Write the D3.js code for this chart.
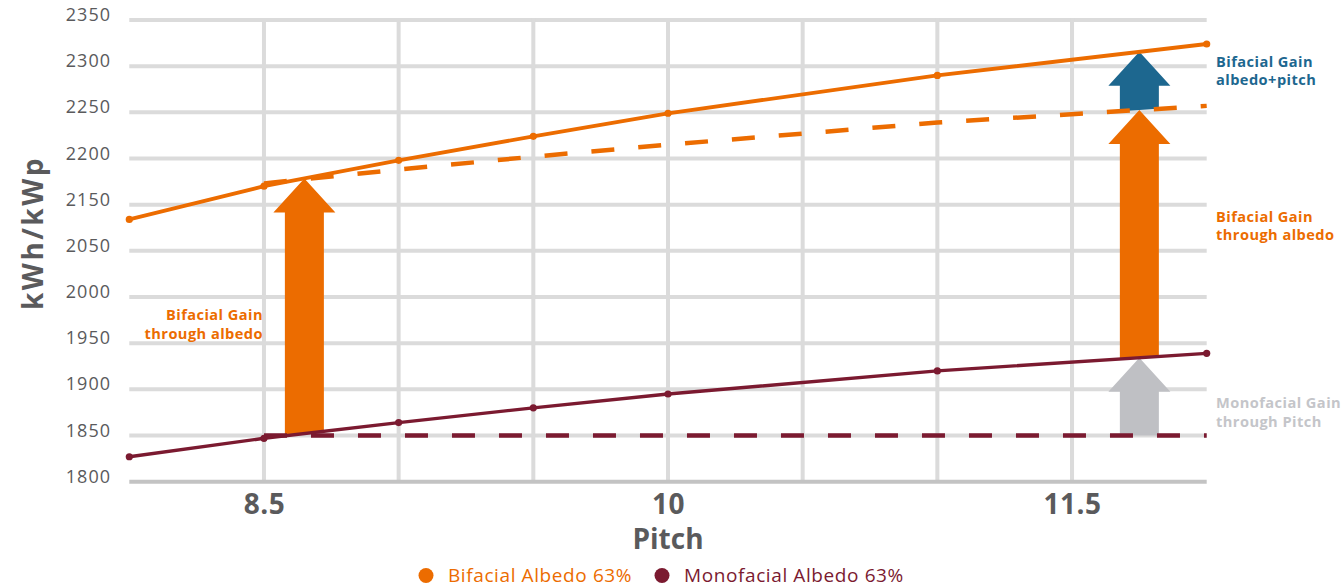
<!DOCTYPE html>
<html>
<head>
<meta charset="utf-8">
<script src="https://cdn.jsdelivr.net/npm/d3@7"></script>
<style>
  html, body { margin: 0; padding: 0; background: #fff; }
  svg { display: block; font-family: "Open Sans", sans-serif; }
</style>
</head>
<body>
<svg id="chart" width="1344" height="587"></svg>
<script>
// ---- data -------------------------------------------------------------
const pitch            = [8, 8.5, 9, 9.5, 10, 11, 12];
const bifacial         = [2084, 2120, 2148, 2174, 2199, 2240, 2274];
const monofacial       = [1827, 1847, 1864, 1880, 1895, 1920, 1939];

// reference curves: bifacial gain from albedo only, monofacial at fixed pitch
const bifacialAlbedoPitch = [8.5, 9, 9.5, 10, 11, 12];
const bifacialAlbedo      = [2123, 2138, 2152, 2165, 2189, 2207];
const monofacialFixedPitch = [8.5, 12];
const monofacialFixed      = [1850, 1850];

const yTickValues = [1800, 1850, 1900, 1950, 2000, 2050, 2100, 2150, 2200, 2250, 2300];
const yTickLabels = ["1800", "1850", "1900", "1950", "2000", "2050", "2150", "2200", "2250", "2300", "2350"];
const xTickValues = [8.5, 10, 11.5];
const xTickLabels = ["8.5", "10", "11.5"];
const xGridValues = [8.5, 9, 9.5, 10, 10.5, 11, 11.5];

const seriesNames = ["Bifacial Albedo 63%", "Monofacial Albedo 63%"];

// gain arrows: position on the pitch axis, the curve they start from and the curve they reach
const arrowPitch = [8.65, 11.75, 11.75, 11.75];
const arrowFrom  = ["mono", "mono", "bifAlbedo", "monoFixed"];
const arrowTo    = ["bif", "bifAlbedo", "bif", "mono"];
const arrowKind  = ["albedo", "albedo", "total", "pitch"];

const noteLines = {
  total:  ["Bifacial Gain", "albedo+pitch"],
  albedo: ["Bifacial Gain", "through albedo"],
  pitch:  ["Monofacial Gain", "through Pitch"]
};

// ---- styles -----------------------------------------------------------
const C = {
  orange: "#EC6C00",
  maroon: "#7B1A30",
  blue:   "#1D678F",
  grayArrow: "#BFC0C4",
  grayNote:  "#C4C5C9",
  grid:   "#DBDBDB",
  axis:   "#C3C3C3",
  text:   "#5A5A5C"
};
const kindColor = { albedo: C.orange, total: C.blue, pitch: C.grayArrow };
const noteColor = { albedo: C.orange, total: C.blue, pitch: C.grayNote };

// ---- scales -----------------------------------------------------------
const svg = d3.select("#chart");
const x = d3.scaleLinear().domain([8, 12]).range([129.3, 1206.7]);
const y = d3.scaleLinear().domain([1800, 2300]).range([481.7, 20]);

// piecewise-linear curves used to place the arrows on the lines
const curves = {
  bif:       d3.scaleLinear().domain(pitch).range(bifacial),
  mono:      d3.scaleLinear().domain(pitch).range(monofacial),
  bifAlbedo: d3.scaleLinear().domain(bifacialAlbedoPitch).range(bifacialAlbedo),
  monoFixed: d3.scaleLinear().domain(monofacialFixedPitch).range(monofacialFixed)
};

// ---- grid -------------------------------------------------------------
const grid = svg.append("g");
grid.selectAll("line.h")
  .data(yTickValues.slice(1))
  .join("line")
  .attr("x1", x(8)).attr("x2", x(12))
  .attr("y1", d => y(d)).attr("y2", d => y(d))
  .attr("stroke", C.grid).attr("stroke-width", 4);

grid.selectAll("line.v")
  .data(xGridValues)
  .join("line")
  .attr("x1", d => x(d)).attr("x2", d => x(d))
  .attr("y1", y(2300) - 2).attr("y2", y(1800))
  .attr("stroke", C.grid).attr("stroke-width", 4);

// x axis baseline
svg.append("line")
  .attr("x1", x(8)).attr("x2", x(12))
  .attr("y1", y(1800)).attr("y2", y(1800))
  .attr("stroke", C.axis).attr("stroke-width", 4);

// ---- axes labels ------------------------------------------------------
const yAxis = d3.axisLeft(y)
  .tickValues(yTickValues)
  .tickSize(0)
  .tickPadding(0)
  .tickFormat((d, i) => yTickLabels[i]);
const gy = svg.append("g").attr("transform", "translate(111,0)").call(yAxis);
gy.select(".domain").remove();
gy.selectAll("text")
  .attr("dy", "0.5")
  .attr("x", 0)
  .style("font-family", "'Open Sans', sans-serif")
  .style("font-size", "18px")
  .style("letter-spacing", "1px")
  .attr("fill", C.text);

const xAxis = d3.axisBottom(x)
  .tickValues(xTickValues)
  .tickSize(0)
  .tickPadding(0)
  .tickFormat((d, i) => xTickLabels[i]);
const gx = svg.append("g").call(xAxis);
gx.select(".domain").remove();
gx.selectAll("text")
  .attr("y", 514).attr("dy", 0)
  .style("font-family", "'Open Sans', sans-serif")
  .style("font-size", "28px")
  .style("font-weight", "700")
  .style("letter-spacing", "0.5px")
  .attr("fill", C.text);

svg.append("text")
  .attr("x", x(10)).attr("y", 549)
  .attr("text-anchor", "middle")
  .style("font-size", "28px").style("font-weight", "700")
  .attr("fill", C.text)
  .text("Pitch");

svg.append("text")
  .attr("transform", "translate(43,233) rotate(-90)")
  .attr("text-anchor", "middle")
  .style("font-size", "28px").style("font-weight", "700")
  .style("letter-spacing", "2.5px")
  .attr("fill", C.text)
  .text("kWh/kWp");

// ---- arrows -----------------------------------------------------------
const shaftHalf = 19.5, headHalf = 31, headH = 34;
function arrowPath(i) {
  const p = arrowPitch[i];
  const cx = x(p);
  const from = curves[arrowFrom[i]], to = curves[arrowTo[i]];
  const tipY = y(to(p));
  const lx = cx - shaftHalf, rx = cx + shaftHalf;
  const lb = y(from(x.invert(lx))), rb = y(from(x.invert(rx)));
  const hb = tipY + headH;
  return d3.line()([
    [cx, tipY], [cx + headHalf, hb], [rx, hb], [rx, rb],
    [lx, lb], [lx, hb], [cx - headHalf, hb]
  ]) + "Z";
}
svg.append("g").selectAll("path")
  .data(arrowPitch.map((d, i) => i))
  .join("path")
  .attr("d", arrowPath)
  .attr("fill", i => kindColor[arrowKind[i]]);

// ---- lines ------------------------------------------------------------
const line = d3.line().x(d => x(d[0])).y(d => y(d[1]));

svg.append("path")
  .attr("d", line(d3.zip(bifacialAlbedoPitch, bifacialAlbedo)))
  .attr("fill", "none").attr("stroke", C.orange)
  .attr("stroke-width", 4.5).attr("stroke-dasharray", "23 24");

svg.append("path")
  .attr("d", line(d3.zip(monofacialFixedPitch, monofacialFixed)))
  .attr("fill", "none").attr("stroke", C.maroon)
  .attr("stroke-width", 4.5).attr("stroke-dasharray", "23 24");

const series = [
  { name: seriesNames[0], values: bifacial,   color: C.orange, w: 3.8 },
  { name: seriesNames[1], values: monofacial, color: C.maroon, w: 3.4 }
];
series.forEach(s => {
  const pts = d3.zip(pitch, s.values);
  svg.append("path")
    .attr("d", line(pts))
    .attr("fill", "none").attr("stroke", s.color).attr("stroke-width", s.w);
  svg.append("g").selectAll("circle")
    .data(pts).join("circle")
    .attr("cx", d => x(d[0])).attr("cy", d => y(d[1]))
    .attr("r", 3.6).attr("fill", s.color);
});

// ---- annotations ------------------------------------------------------
const notePos = [
  { kind: "total",  x: 1216, y: 66.7, anchor: "start" },
  { kind: "albedo", x: 1216, y: 221.7, anchor: "start" },
  { kind: "pitch",  x: 1216, y: 408,   anchor: "start" },
  { kind: "albedo", x: 263,  y: 320,   anchor: "end" }
];
notePos.forEach(n => {
  const t = svg.append("text")
    .attr("text-anchor", n.anchor)
    .style("font-size", "14.6px").style("font-weight", "700")
    .style("letter-spacing", "0.45px")
    .attr("fill", noteColor[n.kind]);
  noteLines[n.kind].forEach((s, k) => {
    t.append("tspan").attr("x", n.x).attr("y", n.y + k * 18.6).text(s);
  });
});

// ---- legend -----------------------------------------------------------
const legendX = [426, 662];
const legend = svg.append("g");
series.forEach((s, i) => {
  legend.append("circle")
    .attr("cx", legendX[i]).attr("cy", 575.5).attr("r", 7.5).attr("fill", s.color);
  legend.append("text")
    .attr("x", legendX[i] + 22).attr("y", 581.5)
    .style("font-size", "19px").style("letter-spacing", "0.6px")
    .attr("fill", s.color)
    .text(s.name);
});
</script>
</body>
</html>
